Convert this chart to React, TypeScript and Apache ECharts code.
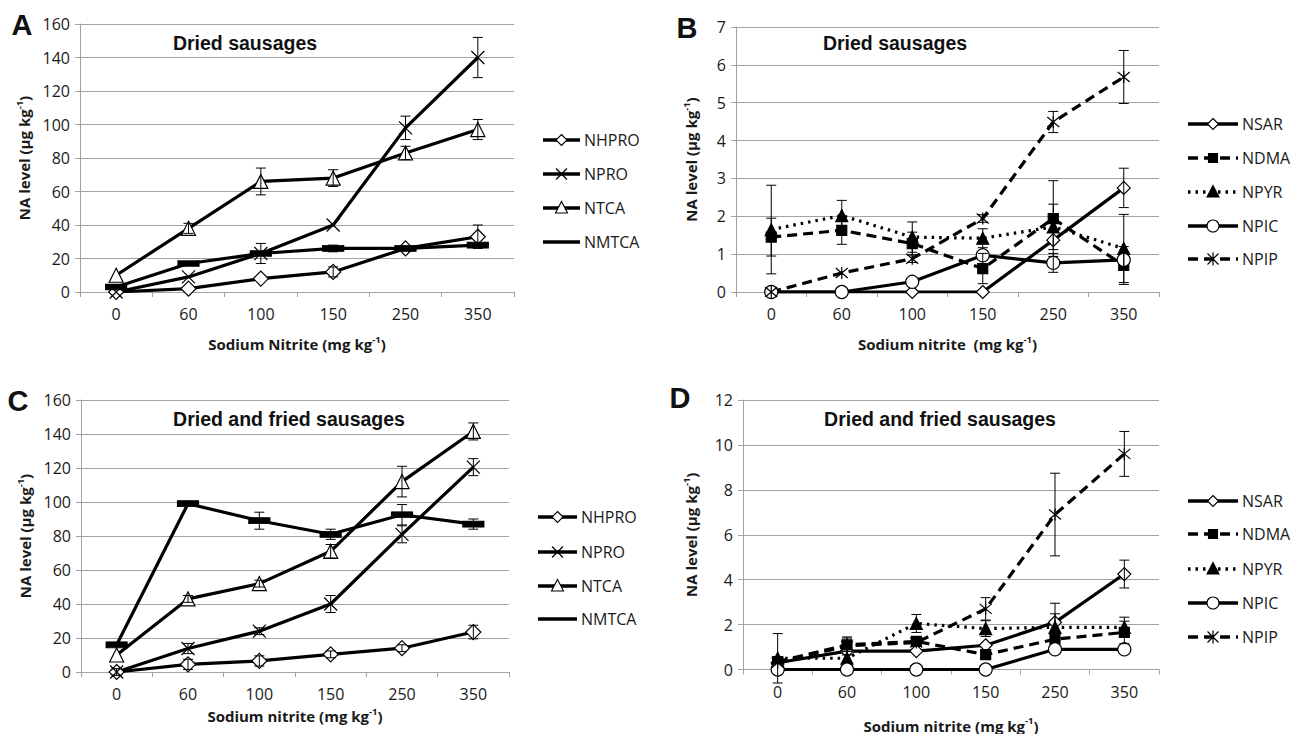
import React, { useEffect, useRef } from "react";
import * as echarts from "echarts";

// ---------- data ----------
const categories = ["0", "60", "100", "150", "250", "350"];

// Panel A – Dried sausages (µg/kg)
const aNHPRO = [0, 2, 8, 12, 26, 33];
const aNHPROErr = [0, 0, 0, 3, 0, 7];
const aNPRO = [0, 9, 23, 40, 98, 140];
const aNPROErr = [0, 0, 6, 0, 7, 12];
const aNTCA = [10, 38, 66, 68, 83, 97];
const aNTCAErr = [0, 3, 8, 5, 4, 6];
const aNMTCA = [3, 17, 23, 26, 26, 28];
const aNMTCAErr = [0, 0, 0, 2, 0, 0];

// Panel B – Dried sausages (µg/kg)
const bNSAR = [0, 0, 0, 0, 1.37, 2.75];
const bNSARErr = [0, 0, 0, 0, 0, 0.52];
const bNDMA = [1.45, 1.63, 1.28, 0.62, 1.94, 0.7];
const bNDMAErr = [0.5, 0.37, 0.3, 0.4, 1.0, 0.5];
const bNPYR = [1.65, 2.02, 1.45, 1.42, 1.72, 1.15];
const bNPYRErr = [1.17, 0.4, 0.4, 0.25, 0.6, 0.9];
const bNPIC = [0, 0, 0.27, 0.97, 0.77, 0.85];
const bNPICErr = [0, 0, 0, 0, 0.25, 0];
const bNPIP = [0, 0.5, 0.88, 1.94, 4.49, 5.68];
const bNPIPErr = [0, 0, 0.1, 0.1, 0.28, 0.7];

// Panel C – Dried and fried sausages
const cNHPRO = [0, 4.5, 6.5, 10.4, 14, 23.5];
const cNHPROErr = [2, 3, 3, 2, 2, 4];
const cNPRO = [0, 13.8, 24, 40, 81, 120.5];
const cNPROErr = [0, 3, 2, 5, 5, 5];
const cNTCA = [10, 43, 52, 71, 112, 141.5];
const cNTCAErr = [0, 2, 2, 4, 9, 5];
const cNMTCA = [16, 99, 89, 81, 92.5, 87];
const cNMTCAErr = [0, 0, 5, 3, 6, 3];

// Panel D – Dried and fried sausages
const dNSAR = [0.3, 0.82, 0.82, 1.08, 2.1, 4.25];
const dNSARErr = [0, 0, 0, 0, 0.85, 0.62];
const dNDMA = [0.35, 1.1, 1.25, 0.66, 1.35, 1.65];
const dNDMAErr = [0, 0.3, 0, 0, 0, 0.5];
const dNPYR = [0.5, 0.5, 2.05, 1.82, 1.88, 1.88];
const dNPYRErr = [1.1, 0, 0.4, 0.35, 0.6, 0.45];
const dNPIC = [0, 0, 0, 0, 0.9, 0.9];
const dNPICErr = [0, 0, 0, 0, 0, 0];
const dNPIP = [0.3, 1.05, 1.2, 2.7, 6.9, 9.6];
const dNPIPErr = [0, 0.4, 0, 0.5, 1.84, 1.0];

const legendAC = ["NHPRO", "NPRO", "NTCA", "NMTCA"];
const legendBD = ["NSAR", "NDMA", "NPYR", "NPIC", "NPIP"];

// ---------- styles ----------
const SYM_X = "path://M0,0L10,10M10,0L0,10";
const SYM_AST = "path://M0,0L10,10M10,0L0,10M5,-1L5,11";

type Sty = { symbol: string; size: any; fill: string; dash: any; mark: string };
const STY: Record<string, Sty> = {
  NHPRO: { symbol: "diamond", size: 15, fill: "#fff", dash: "solid", mark: "diamond" },
  NPRO: { symbol: SYM_X, size: 13, fill: "#000", dash: "solid", mark: "x" },
  NTCA: { symbol: "triangle", size: 14, fill: "#fff", dash: "solid", mark: "triangle" },
  NMTCA: { symbol: "rect", size: [20, 6], fill: "#000", dash: "solid", mark: "none" },
  NSAR: { symbol: "diamond", size: 13, fill: "#fff", dash: "solid", mark: "diamond" },
  NDMA: { symbol: "rect", size: 10, fill: "#000", dash: [10, 6], mark: "square" },
  NPYR: { symbol: "triangle", size: 12, fill: "#000", dash: [2.5, 5], mark: "triangle" },
  NPIC: { symbol: "circle", size: 13, fill: "#fff", dash: "solid", mark: "circle" },
  NPIP: { symbol: SYM_AST, size: 12, fill: "#000", dash: [10, 6], mark: "ast" },
};

const FONT = "Open Sans";
const TXT = "#1a1a1a";
const GRID = "#a3a3a3";

function lineSeries(name: string, data: number[], idx: number) {
  const s = STY[name];
  return {
    type: "line",
    name,
    xAxisIndex: idx,
    yAxisIndex: idx,
    data,
    symbol: s.symbol,
    symbolSize: s.size,
    showAllSymbol: true,
    lineStyle: { color: "#000", width: 3.2, type: s.dash, cap: "butt" },
    itemStyle: { color: s.fill, borderColor: "#000", borderWidth: 1.2 },
    z: 3,
    silent: true,
  };
}

function errSeries(name: string, data: number[], err: number[], idx: number) {
  return {
    type: "custom",
    name: name + "-err-" + idx,
    xAxisIndex: idx,
    yAxisIndex: idx,
    encode: { x: 0, y: 1 },
    data: data.map((v, i) => [i, v, err[i]]).filter((d) => d[2] > 0),
    z: 5,
    silent: true,
    renderItem: (params: any, api: any) => {
      const x = api.value(0);
      const y = api.value(1);
      const e = api.value(2);
      const top = api.coord([x, y + e]);
      const bot = api.coord([x, y - e]);
      const w = 5;
      const st = { stroke: "#000", lineWidth: 1 };
      return {
        type: "group",
        children: [
          { type: "line", shape: { x1: top[0], y1: top[1], x2: bot[0], y2: bot[1] }, style: st },
          { type: "line", shape: { x1: top[0] - w, y1: top[1], x2: top[0] + w, y2: top[1] }, style: st },
          { type: "line", shape: { x1: bot[0] - w, y1: bot[1], x2: bot[0] + w, y2: bot[1] }, style: st },
        ],
      };
    },
  };
}

const richName = {
  b: { fontFamily: FONT, fontSize: 15, fontWeight: "bold", color: TXT, lineHeight: 20, verticalAlign: "middle" },
  sup: { fontFamily: FONT, fontSize: 9.5, fontWeight: "bold", color: TXT, lineHeight: 20, verticalAlign: "top" },
};

function xAxis(idx: number, name: string, gap: number) {
  return {
    type: "category",
    gridIndex: idx,
    data: categories,
    boundaryGap: true,
    axisLine: { show: true, lineStyle: { color: GRID, width: 1 } },
    axisTick: { show: true, length: 5, lineStyle: { color: GRID } },
    axisLabel: { fontFamily: FONT, fontSize: 16, color: TXT, margin: 14 },
    splitLine: { show: false },
    name: "{b|" + name + "}{sup|-1}{b|)}",
    nameLocation: "middle",
    nameGap: gap,
    nameTextStyle: { rich: richName },
  };
}

function yAxis(idx: number, max: number, interval: number, gap: number) {
  return {
    type: "value",
    gridIndex: idx,
    min: 0,
    max,
    interval,
    axisLine: { show: true, lineStyle: { color: GRID, width: 1 } },
    axisTick: { show: true, length: 5, lineStyle: { color: GRID } },
    axisLabel: { fontFamily: FONT, fontSize: 16, color: TXT, margin: 10 },
    splitLine: { show: true, lineStyle: { color: GRID, width: 1 } },
    name: "{b|NA level (µg kg}{sup|-1}{b|)}",
    nameLocation: "middle",
    nameGap: gap,
    nameRotate: 90,
    nameTextStyle: { rich: richName },
  };
}

// manual legend built from graphic elements
function legendGraphic(names: string[], x1: number, x2: number, ys: number[]) {
  const out: any[] = [];
  names.forEach((n, i) => {
    const s = STY[n];
    const y = ys[i];
    const cx = (x1 + x2) / 2;
    out.push({
      type: "line",
      silent: true,
      shape: { x1, y1: y, x2, y2: y },
      style: {
        stroke: "#000",
        lineWidth: 3.4,
        lineDash: s.dash === "solid" ? null : s.dash,
      },
    });
    const ms = { stroke: "#000", lineWidth: 1.1, fill: s.fill };
    const r = 5.5;
    if (s.mark === "diamond") {
      out.push({ type: "polygon", silent: true, shape: { points: [[cx, y - r], [cx + r, y], [cx, y + r], [cx - r, y]] }, style: ms });
    } else if (s.mark === "triangle") {
      out.push({ type: "polygon", silent: true, shape: { points: [[cx, y - r - 1], [cx + r + 0.5, y + r - 0.5], [cx - r - 0.5, y + r - 0.5]] }, style: ms });
    } else if (s.mark === "circle") {
      out.push({ type: "circle", silent: true, shape: { cx, cy: y, r: r + 0.5 }, style: ms });
    } else if (s.mark === "square") {
      out.push({ type: "rect", silent: true, shape: { x: cx - 4.5, y: y - 4.5, width: 9, height: 9 }, style: ms });
    } else if (s.mark === "x" || s.mark === "ast") {
      const st = { stroke: "#000", lineWidth: 1.2 };
      out.push({ type: "line", silent: true, shape: { x1: cx - r, y1: y - r, x2: cx + r, y2: y + r }, style: st });
      out.push({ type: "line", silent: true, shape: { x1: cx + r, y1: y - r, x2: cx - r, y2: y + r }, style: st });
      if (s.mark === "ast") {
        out.push({ type: "line", silent: true, shape: { x1: cx, y1: y - r - 1, x2: cx, y2: y + r + 1 }, style: st });
      }
    }
    out.push({
      type: "text",
      silent: true,
      x: x2 + 4,
      y,
      style: {
        text: n,
        font: '16px "Open Sans"',
        fill: TXT,
        align: "left",
        verticalAlign: "middle",
        textAlign: "left",
        textVerticalAlign: "middle",
      },
    });
  });
  return out;
}

function txt(text: string, x: number, y: number, font: string) {
  return {
    type: "text",
    x,
    y,
    silent: true,
    style: {
      text,
      font,
      fill: "#111",
      align: "center",
      verticalAlign: "middle",
      textAlign: "center",
      textVerticalAlign: "middle",
    },
  };
}

export default function App() {
  const ref = useRef<HTMLDivElement>(null);
  useEffect(() => {
    if (!ref.current) return;
    const chart = echarts.init(ref.current, null, { renderer: "svg" });

    const panelsAC: [number, number[][], number[][]][] = [
      [0, [aNHPRO, aNPRO, aNTCA, aNMTCA], [aNHPROErr, aNPROErr, aNTCAErr, aNMTCAErr]],
      [2, [cNHPRO, cNPRO, cNTCA, cNMTCA], [cNHPROErr, cNPROErr, cNTCAErr, cNMTCAErr]],
    ];
    const panelsBD: [number, number[][], number[][]][] = [
      [1, [bNSAR, bNDMA, bNPYR, bNPIC, bNPIP], [bNSARErr, bNDMAErr, bNPYRErr, bNPICErr, bNPIPErr]],
      [3, [dNSAR, dNDMA, dNPYR, dNPIC, dNPIP], [dNSARErr, dNDMAErr, dNPYRErr, dNPICErr, dNPIPErr]],
    ];
    const series: any[] = [];
    panelsAC.forEach(([idx, vals, errs]) => {
      legendAC.forEach((n, k) => series.push(lineSeries(n, vals[k], idx)));
      legendAC.forEach((n, k) => series.push(errSeries(n, vals[k], errs[k], idx)));
    });
    panelsBD.forEach(([idx, vals, errs]) => {
      legendBD.forEach((n, k) => series.push(lineSeries(n, vals[k], idx)));
      legendBD.forEach((n, k) => series.push(errSeries(n, vals[k], errs[k], idx)));
    });

    const boldTitle = 'bold 19.5px "Liberation Sans", Arial, sans-serif';
    const letter = 'bold 29px "Liberation Sans", Arial, sans-serif';

    chart.setOption({
      animation: false,
      backgroundColor: "#fff",
      grid: [
        { left: 80, top: 24, width: 434, height: 268 },
        { left: 736, top: 27, width: 423, height: 265 },
        { left: 81, top: 400, width: 428, height: 272 },
        { left: 743, top: 400, width: 416, height: 272 },
      ],
      xAxis: [
        xAxis(0, "Sodium Nitrite (mg kg", 42),
        xAxis(1, "Sodium nitrite  (mg kg", 42),
        xAxis(2, "Sodium nitrite (mg kg", 34),
        xAxis(3, "Sodium nitrite (mg kg", 46),
      ],
      yAxis: [yAxis(0, 160, 20, 46), yAxis(1, 7, 1, 35), yAxis(2, 160, 20, 46), yAxis(3, 12, 2, 42)],
      graphic: [
        txt("A", 22, 25, letter),
        txt("B", 687, 28, letter),
        txt("C", 18, 401, letter),
        txt("D", 680, 398, letter),
        txt("Dried sausages", 245, 43, boldTitle),
        txt("Dried sausages", 895, 43, boldTitle),
        txt("Dried and fried sausages", 289, 419, boldTitle),
        txt("Dried and fried sausages", 940, 419, boldTitle),
        ...legendGraphic(legendAC, 543, 580, [140, 174, 208, 242]),
        ...legendGraphic(legendBD, 1188, 1238, [124, 158, 192, 226, 259]),
        ...legendGraphic(legendAC, 538, 577, [517, 552, 586, 619]),
        ...legendGraphic(legendBD, 1188, 1238, [501, 534, 569, 603, 637]),
      ],
      series,
    });
    return () => chart.dispose();
  }, []);
  return (
    <div
      ref={ref}
      style={{ position: "absolute", left: 0, top: 0, width: 1293, height: 734, background: "#fff" }}
    />
  );
}
